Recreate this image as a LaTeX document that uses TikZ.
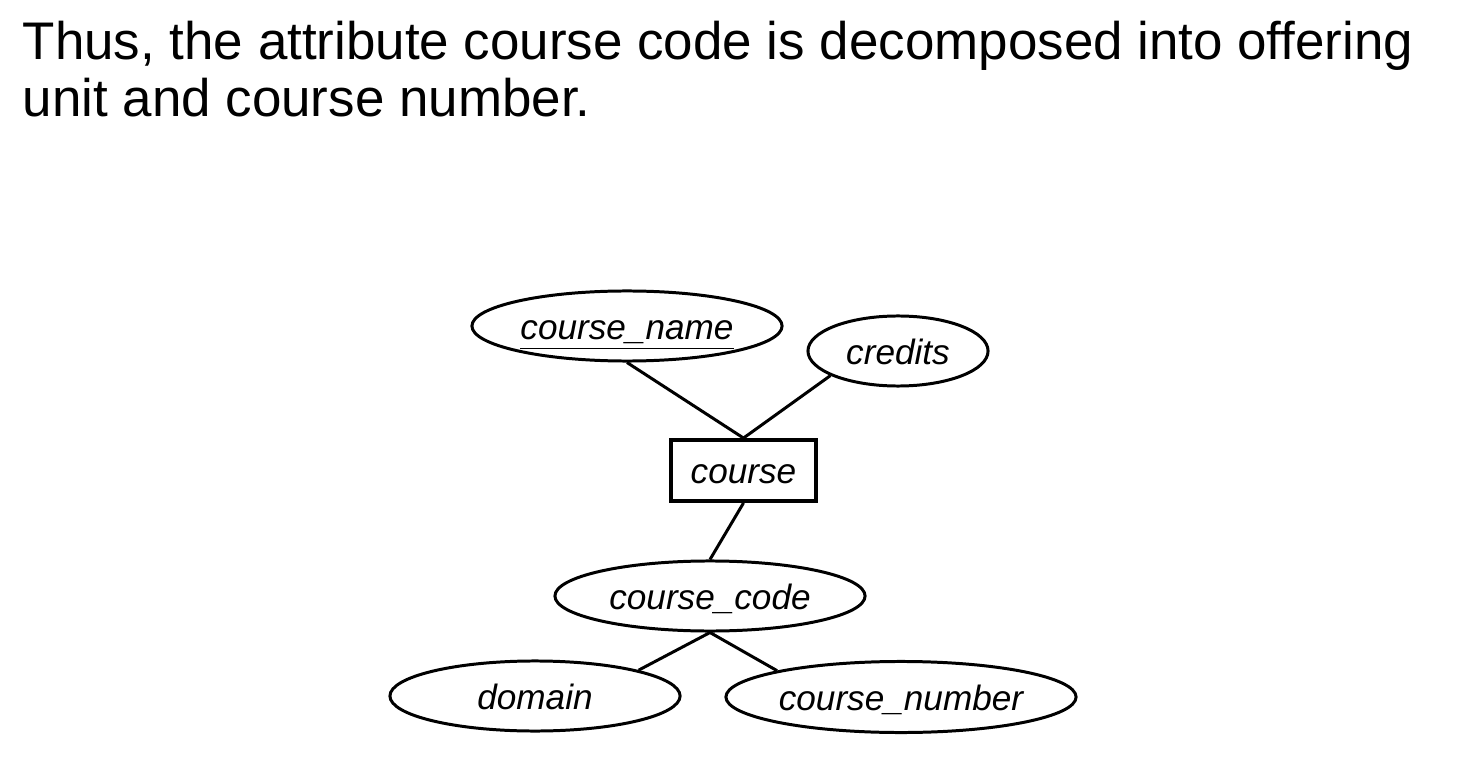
\documentclass[tikz,border=0pt]{standalone}
\usepackage{fontspec}
\setmainfont{Liberation Sans}
\usetikzlibrary{shapes.geometric}
\begin{document}
\begin{tikzpicture}[x=0.01cm,y=-0.01cm,
  attr/.style={draw, ellipse, line width=0.85pt, inner sep=0pt, text height=7.6pt, text depth=0pt, font=\fontsize{10}{12}\selectfont\itshape},
  ent/.style={draw, rectangle, line width=1.1pt, inner sep=0pt, text height=7.6pt, text depth=0pt, font=\fontsize{10}{12}\selectfont\itshape},
  title/.style={anchor=base west, inner sep=0pt, font=\fontsize{15.05}{18}\selectfont},
  conn/.style={line width=0.85pt}]
\useasboundingbox (0,0) rectangle (1458,764);
\node[title] (t1) at (22,60) {Thus, the attribute course code is decomposed into offering};
\node[title] (t2) at (22,117) {unit and course number.};
\node[attr, minimum width=3.1cm, minimum height=0.7cm] (cname) at (627,326) {\underline{course\_name}};
\node[attr, minimum width=1.8cm, minimum height=0.7cm] (credits) at (898,351) {credits};
\node[ent, minimum width=1.45cm, minimum height=0.61cm] (course) at (743.5,470.5) {course};
\node[attr, minimum width=3.1cm, minimum height=0.7cm] (ccode) at (710,596) {course\_code};
\node[attr, minimum width=2.9cm, minimum height=0.7cm] (domain) at (535,696) {domain};
\node[attr, minimum width=3.5cm, minimum height=0.71cm] (cnum) at (901,697) {course\_number};
\draw[conn] (cname.south) -- (course.north);
\draw[conn] (credits.200) -- (course.north);
\draw[conn] (course.south) -- (ccode.north);
\draw[conn] (ccode.south) -- (domain.14);
\draw[conn] (ccode.south) -- (cnum.168);
\end{tikzpicture}
\end{document}
